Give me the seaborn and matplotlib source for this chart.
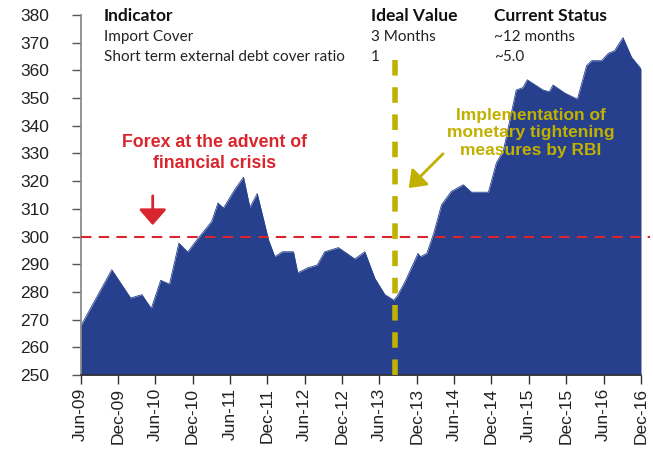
import matplotlib
matplotlib.use("Agg")
import matplotlib.pyplot as plt
import seaborn as sns
import pandas as pd

# ---- data ----
dates = ["2009-06-01", "2009-11-01", "2010-02-01", "2010-03-28", "2010-05-13",
         "2010-06-28", "2010-08-10", "2010-09-25", "2010-11-07", "2010-12-22",
         "2011-03-04", "2011-04-04", "2011-05-01", "2011-06-28", "2011-08-07",
         "2011-09-07", "2011-10-13", "2011-12-07", "2012-01-07", "2012-02-13",
         "2012-04-07", "2012-04-28", "2012-06-16", "2012-08-01", "2012-09-07",
         "2012-11-13", "2013-02-01", "2013-03-22", "2013-05-10", "2013-06-28",
         "2013-07-20", "2013-08-10", "2013-08-28", "2013-10-04", "2013-12-07",
         "2013-12-19", "2014-01-19", "2014-02-22", "2014-04-01", "2014-05-19",
         "2014-07-16", "2014-08-25", "2014-11-16", "2014-12-25", "2015-01-28",
         "2015-04-01", "2015-05-04", "2015-05-25", "2015-08-10", "2015-09-10",
         "2015-09-28", "2015-11-25", "2016-01-25", "2016-03-10", "2016-04-04",
         "2016-05-22", "2016-06-25", "2016-07-25", "2016-09-04", "2016-10-16",
         "2016-11-25", "2016-12-01"]
forex = [267.5, 288.0, 277.8, 279.0, 274.0,
         284.2, 282.8, 297.6, 294.4, 298.8,
         305.4, 312.1, 310.3, 317.3, 321.4,
         310.5, 315.5, 298.8, 292.7, 294.5,
         294.5, 286.9, 288.7, 289.7, 294.5,
         296.0, 291.9, 294.5, 284.9, 279.0,
         278.0, 277.0, 278.6, 283.6, 293.9,
         292.7, 293.9, 301.2, 311.5, 316.3,
         318.7, 316.0, 316.0, 326.6, 330.9,
         352.9, 353.8, 356.6, 352.9, 352.3,
         354.7, 351.8, 349.6, 361.7, 363.5,
         363.5, 366.2, 367.1, 371.8, 364.7,
         361.1, 360.5]
tick_dates = ["2009-06-01", "2009-12-01", "2010-06-01", "2010-12-01", "2011-06-01",
              "2011-12-01", "2012-06-01", "2012-12-01", "2013-06-01", "2013-12-01",
              "2014-06-01", "2014-12-01", "2015-06-01", "2015-12-01", "2016-06-01",
              "2016-12-01"]
tick_labels = ["Jun-09", "Dec-09", "Jun-10", "Dec-10", "Jun-11", "Dec-11", "Jun-12",
               "Dec-12", "Jun-13", "Dec-13", "Jun-14", "Dec-14", "Jun-15", "Dec-15",
               "Jun-16", "Dec-16"]
y_ticks = list(range(250, 381, 10))
crisis_level = 300
policy_date = "2013-08-16"

header_cols = ["Indicator", "Ideal Value", "Current Status"]
header_rows = [["Import Cover", "3 Months", "~12 months"],
               ["Short term external debt cover ratio", "1", "~5.0"]]

NAVY = "#26408E"
RED = "#D9262E"
OLIVE = "#C2B000"

sns.set_theme(style="ticks")
plt.rcParams["font.family"] = ["Liberation Sans", "DejaVu Sans"]

df = pd.DataFrame({"date": pd.to_datetime(dates), "forex": forex})

fig = plt.figure(figsize=(6.53, 4.49), dpi=100)
ax = fig.add_axes([80.5 / 653, 74 / 449, 560.5 / 653, 360 / 449])

sns.lineplot(data=df, x="date", y="forex", color=NAVY, linewidth=0.6, ax=ax)
ax.fill_between(df["date"], 250, df["forex"], color=NAVY, linewidth=0)

ax.set_xlim(pd.Timestamp(tick_dates[0]), pd.Timestamp(tick_dates[-1]))
ax.set_ylim(250, 380)
ax.set_yticks(y_ticks)
ax.set_xticks(pd.to_datetime(tick_dates))
ax.set_xticklabels(tick_labels, rotation=90, fontsize=12.5, color="#222222")
ax.tick_params(axis="y", labelsize=12.5, labelcolor="#222222", length=6.5, width=1,
               color="#555555", pad=16)
ax.tick_params(axis="x", length=6.5, width=1, color="#333333", pad=3)
ax.set_xlabel("")
ax.set_ylabel("")
sns.despine(ax=ax, top=True, right=True)
ax.spines["left"].set_color("#888888")
ax.spines["bottom"].set_color("#333333")

# red dashed crisis line
ax.axhline(crisis_level, xmin=0, xmax=1.016, color=RED, linestyle=(0, (5, 3.5)),
           linewidth=1.5, clip_on=False, zorder=3)

# olive dashed policy line
pdt = pd.Timestamp(policy_date)
ax.plot([pdt, pdt], [250, 366.3], color=OLIVE, linewidth=4, linestyle=(0, (2.8, 2.1)),
        zorder=4, solid_capstyle="butt")

# annotations
ax.annotate("", xy=(pd.Timestamp("2010-05-20"), 303.1), xytext=(pd.Timestamp("2010-05-20"), 315.7),
            arrowprops=dict(arrowstyle="-|>,head_width=0.7,head_length=0.8", color=RED, lw=2))
ax.text(pd.Timestamp("2011-03-16"), 330.2, "Forex at the advent of\nfinancial crisis",
        color=RED, fontsize=12.8, fontweight="bold", ha="center", va="center", linespacing=1.25)

ax.annotate("", xy=(pd.Timestamp("2013-10-13"), 316.8), xytext=(pd.Timestamp("2014-04-18"), 330.6),
            arrowprops=dict(arrowstyle="-|>,head_width=0.6,head_length=0.8", color=OLIVE, lw=2))
ax.text(pd.Timestamp("2015-06-12"), 337.4, "Implementation of\nmonetary tightening\nmeasures by RBI",
        color=OLIVE, fontsize=12.5, fontweight="bold", ha="center", va="center", linespacing=1.2)

# header table
col_x = [104, 371, 494]
row_y = [16, 37, 57]
for cx, head in zip(col_x, header_cols):
    fig.text(cx / 653, 1 - row_y[0] / 449, head, fontsize=12.5, fontweight="bold",
             family=["Lato", "Liberation Sans", "DejaVu Sans"], color="#111111",
             va="center", ha="left")
for r, row in enumerate(header_rows):
    for cx, val in zip(col_x, row):
        fig.text(cx / 653, 1 - row_y[r + 1] / 449, val, fontsize=11,
                 family=["Lato", "Liberation Sans", "DejaVu Sans"], color="#222222",
                 va="center", ha="left")

fig.savefig("out.png", dpi=100, facecolor="white")
